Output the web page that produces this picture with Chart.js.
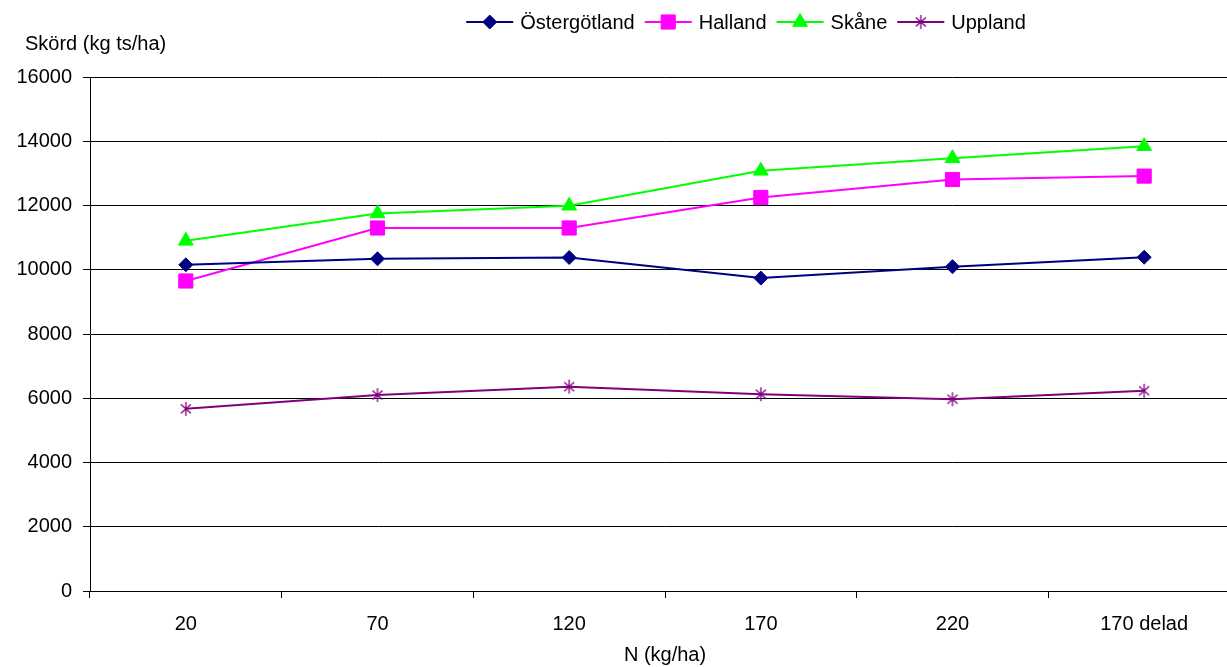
<!DOCTYPE html>
<html lang="sv">

<head>
    <meta charset="UTF-8">
    <title>Skörd per N-giva</title>
    <script src="https://cdn.jsdelivr.net/npm/chart.js"></script>
    <style>
        body { margin: 0; overflow: hidden; background: #fff; }
        #wrap { width: 1260px; height: 667px; }
    </style>
</head>

<body>
    <div id="wrap">
        <canvas id="myChart" width="1260" height="667"></canvas>
    </div>

    <script>
        // data
        var categories = ['20', '70', '120', '170', '220', '170 delad'];
        var ostergotland = [10155, 10340, 10380, 9740, 10095, 10390];
        var halland = [9650, 11300, 11300, 12250, 12810, 12915];
        var skane = [10900, 11750, 11990, 13080, 13470, 13845];
        var uppland = [5670, 6100, 6360, 6125, 5970, 6235];
        var yMax = 16000;
        var yStep = 2000;
        var yTitle = 'Skörd (kg ts/ha)';
        var xTitle = 'N (kg/ha)';

        var FONT = "'Liberation Sans', Arial, sans-serif";
        Chart.defaults.font.family = FONT;
        Chart.defaults.font.size = 20;
        Chart.defaults.color = '#000';

        // asterisk marker for Uppland
        function makeStar(color) {
            var c = document.createElement('canvas');
            c.width = 14;
            c.height = 16;
            var g = c.getContext('2d');
            g.strokeStyle = color;
            g.lineWidth = 1.3;
            g.beginPath();
            g.moveTo(7, 1); g.lineTo(7, 15);
            g.moveTo(2, 3.5); g.lineTo(12, 12.5);
            g.moveTo(12, 3.5); g.lineTo(2, 12.5);
            g.stroke();
            return c;
        }
        var starImg = makeStar('#800080');

        // legend + horizontal y title drawn by hand
        var extras = {
            id: 'extras',
            afterDraw: function (chart) {
                var ctx = chart.ctx;
                ctx.save();
                ctx.font = '20px ' + FONT;
                ctx.fillStyle = '#000';
                ctx.textBaseline = 'middle';
                ctx.textAlign = 'left';
                ctx.fillText(yTitle, 25, 44);

                var lineLen = 47, gapText = 7, gapItem = 10;
                var ds = chart.data.datasets;
                var total = 0;
                ds.forEach(function (d, i) {
                    total += lineLen + gapText + ctx.measureText(d.label).width;
                    if (i < ds.length - 1) total += gapItem;
                });
                var x = 746 - total / 2;
                var y = 22;
                ds.forEach(function (d) {
                    ctx.strokeStyle = d.borderColor;
                    ctx.lineWidth = 2;
                    ctx.beginPath();
                    ctx.moveTo(x, y);
                    ctx.lineTo(x + lineLen, y);
                    ctx.stroke();
                    ctx.fillStyle = d.pointBackgroundColor;
                    ctx.strokeStyle = d.pointBorderColor;
                    ctx.lineWidth = 1;
                    if (Chart.helpers && Chart.helpers.drawPoint) {
                        Chart.helpers.drawPoint(ctx, {
                            pointStyle: d.pointStyle,
                            radius: d.pointRadius,
                            borderWidth: 1,
                            rotation: 0
                        }, x + lineLen / 2, y);
                    }
                    ctx.fillStyle = '#000';
                    ctx.fillText(d.label, x + lineLen + gapText, y + 1);
                    x += lineLen + gapText + ctx.measureText(d.label).width + gapItem;
                });
                ctx.restore();
            }
        };

        function series(label, data, color, style, radius) {
            return {
                label: label,
                data: data,
                borderColor: color,
                backgroundColor: color,
                borderWidth: 2,
                pointStyle: style,
                pointRadius: radius,
                pointHoverRadius: radius,
                pointBackgroundColor: color,
                pointBorderColor: color,
                pointBorderWidth: 1,
                tension: 0
            };
        }

        var ctx01 = document.getElementById('myChart');
        var mychart = new Chart(ctx01, {
            type: 'line',
            data: {
                labels: categories,
                datasets: [
                    series('Östergötland', ostergotland, '#000080', 'rectRot', 7),
                    series('Halland', halland, '#FF00FF', 'rect', 10),
                    series('Skåne', skane, '#00FF00', 'triangle', 8.5),
                    series('Uppland', uppland, '#800080', starImg, 8)
                ]
            },
            options: {
                responsive: false,
                animation: false,
                layout: {
                    padding: { left: 0, right: 20, top: 77, bottom: 0 }
                },
                plugins: {
                    legend: { display: false },
                    tooltip: { enabled: false }
                },
                scales: {
                    x: {
                        offset: true,
                        grid: {
                            offset: true,
                            drawOnChartArea: false,
                            color: '#000',
                            tickLength: 7
                        },
                        border: { color: '#000', width: 1 },
                        ticks: { padding: 14, maxRotation: 0 },
                        title: {
                            display: true,
                            text: xTitle,
                            padding: { top: 0, bottom: 0 }
                        },
                        afterFit: function (scale) { scale.height = 76; }
                    },
                    y: {
                        min: 0,
                        max: yMax,
                        grid: { color: '#000', tickLength: 7 },
                        border: { color: '#000', width: 1 },
                        ticks: {
                            stepSize: yStep,
                            padding: 11,
                            callback: function (v) { return String(v); }
                        },
                        afterFit: function (scale) { scale.width = 90; }
                    }
                }
            },
            plugins: [extras]
        });
    </script>
</body>

</html>
